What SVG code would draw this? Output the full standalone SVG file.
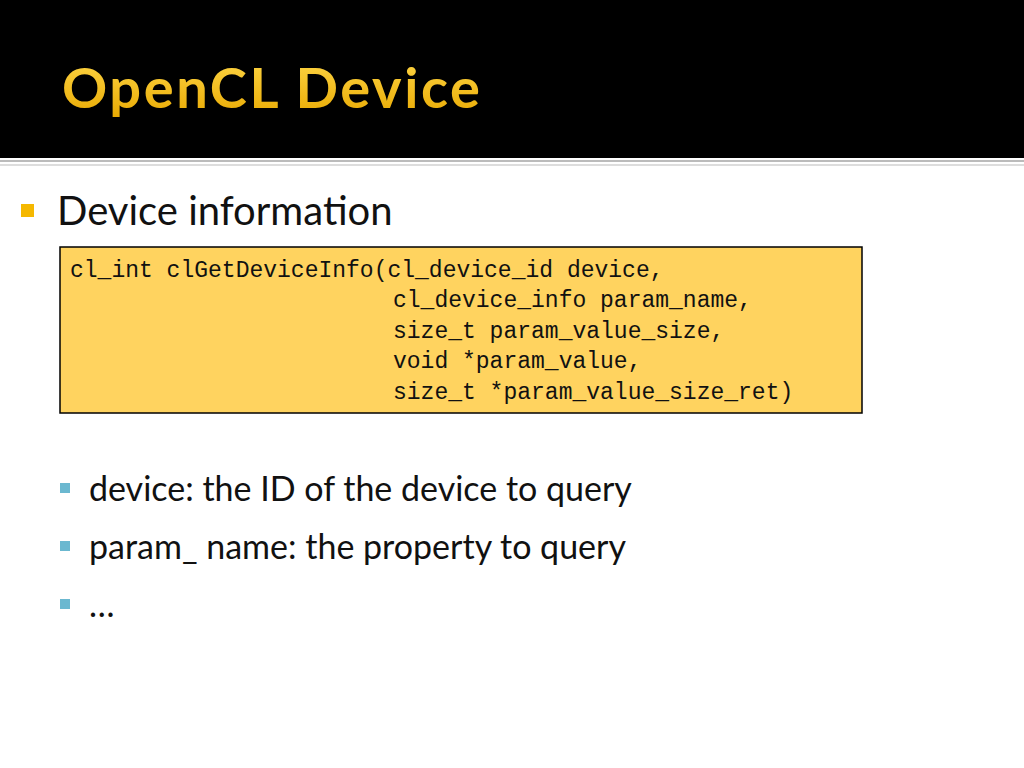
<svg xmlns="http://www.w3.org/2000/svg" width="1024" height="768" viewBox="0 0 1024 768">
<defs>
<linearGradient id="tg" x1="0" y1="0" x2="0" y2="1"><stop offset="0" stop-color="#FFD84A"/><stop offset="1" stop-color="#E8A800"/></linearGradient>
</defs>
<style>
.b{font-family:Lato,"Open Sans","Liberation Sans",sans-serif;fill:#111}
.c{font-family:"Liberation Mono","DejaVu Sans Mono",monospace;font-size:23px;fill:#111}
</style>
<rect width="1024" height="768" fill="#fff"/>
<rect width="1024" height="158" fill="#000"/>
<rect y="160" width="1024" height="2" fill="#bbb"/>
<rect y="164" width="1024" height="2" fill="#ddd"/>
<text x="62" y="108" font-family="Lato,'Open Sans',sans-serif" font-weight="bold" font-size="56" fill="url(#tg)" textLength="418">OpenCL Device</text>
<rect x="21" y="204" width="13" height="13" fill="#F5B800"/>
<text class="b" x="57" y="225" font-size="40">Device information</text>
<g id="code">
<rect x="60" y="247" width="802" height="166" fill="#FFD35F" stroke="#000" stroke-width="1.5"/>
<text class="c" x="70" y="277">cl_int clGetDeviceInfo(cl_device_id device,</text>
<text class="c" x="393" y="307">cl_device_info param_name,</text>
<text class="c" x="393" y="338">size_t param_value_size,</text>
<text class="c" x="393" y="368">void *param_value,</text>
<text class="c" x="393" y="399">size_t *param_value_size_ret)</text>
</g>
<g fill="#6BB8D0">
<rect x="60" y="483" width="10" height="10"/>
<rect x="60" y="541" width="10" height="10"/>
<rect x="60" y="599" width="10" height="10"/>
</g>
<text class="b" x="89" y="501" font-size="34">device: the ID of the device to query</text>
<text class="b" x="89" y="559" font-size="34">param_ name: the property to query</text>
<text class="b" x="89" y="617" font-size="34">…</text>
</svg>
